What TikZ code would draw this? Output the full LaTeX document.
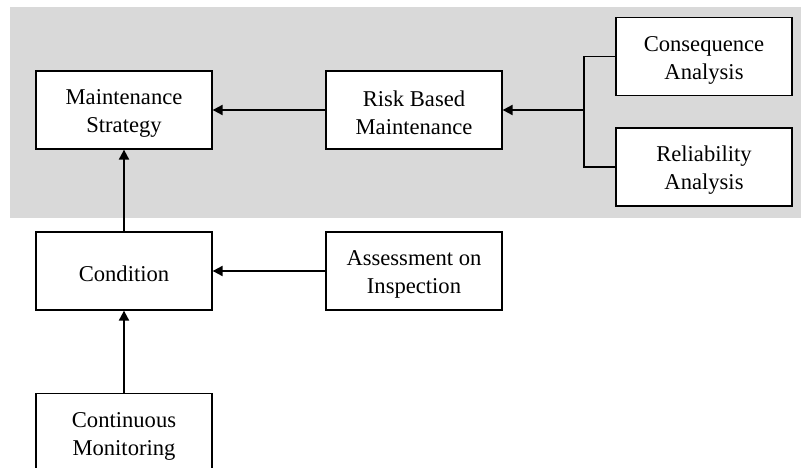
\documentclass[tikz,border=0pt]{standalone}
\usepackage{fontspec}
\setmainfont{Liberation Serif}
\usetikzlibrary{arrows.meta}
\definecolor{bggray}{RGB}{217,217,217}
\newcommand\tstrut{\rule{0pt}{22pt}}
\begin{document}
\begin{tikzpicture}[x=1pt,y=-1pt,
  box/.style={draw=black,fill=white,line width=1.3pt,minimum width=176pt,minimum height=78pt,
    align=center,inner sep=0pt,font=\fontsize{22.6}{28}\selectfont},
  arr/.style={line width=2pt,-{Triangle[length=10pt,width=10pt]}},
  thin/.style={line width=1.3pt}]
\useasboundingbox (0,0) rectangle (801,468);
\clip (0,0) rectangle (801,468);
\fill[bggray] (10,7) rectangle (801,218);
\node[box] (ms) at (124,110) {\tstrut Maintenance\\Strategy};
\node[box] (rbm) at (414,110) {\tstrut Risk Based\\Maintenance};
\node[box] (ca) at (704,56.5) {\tstrut Consequence\\Analysis};
\node[box] (ra) at (704,167) {\tstrut Reliability\\Analysis};
\node[box] (cond) at (124,271) {\tstrut Condition};
\node[box] (ai) at (414,271) {\tstrut Assessment on\\Inspection};
\node[box] (cm) at (124,432.5) {\tstrut Continuous\\Monitoring};
\coordinate (j) at (584,110);
\draw[thin] (ca.west) -| (j) |- (ra.west);
\draw[arr] (j) -- (rbm.east);
\draw[arr] (rbm.west) -- (ms.east);
\draw[arr] (cond.north) -- (ms.south);
\draw[arr] (ai.west) -- (cond.east);
\draw[arr] (cm.north) -- (cond.south);
\end{tikzpicture}
\end{document}
